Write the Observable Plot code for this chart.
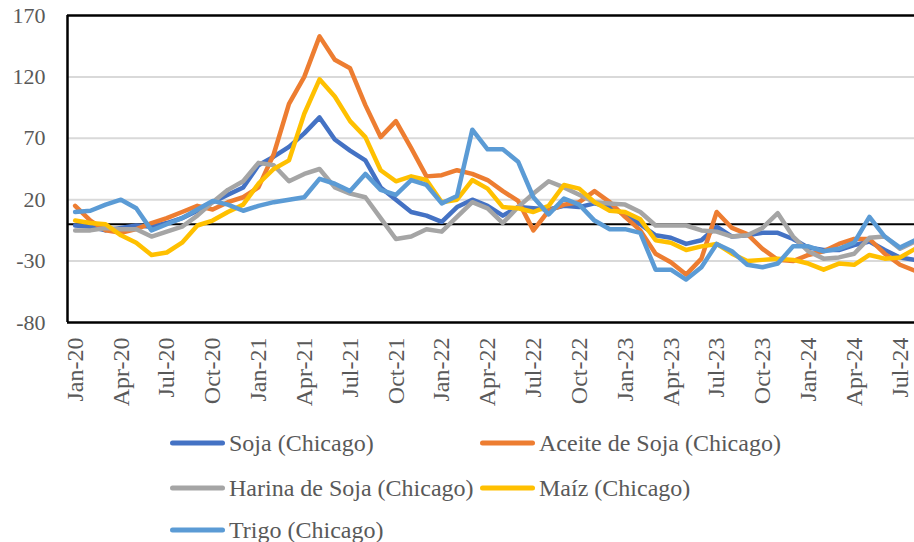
<!DOCTYPE html>
<html>
<head>
<meta charset="utf-8">
<script src="https://cdn.jsdelivr.net/npm/d3@7"></script>
<script src="https://cdn.jsdelivr.net/npm/@observablehq/plot@0.6"></script>
<style>
  html, body { margin: 0; padding: 0; background: #ffffff; }
  #wrap { position: relative; width: 914px; height: 542px; overflow: hidden; font-family: "Liberation Serif", "Times New Roman", serif; }
  .leg { position: absolute; display: flex; align-items: center; color: #595959; font-size: 24px; white-space: nowrap; transform: translateY(-50%); }
  .sw { display: inline-block; width: 55px; height: 5px; border-radius: 3px; margin-right: 4px; }
</style>
</head>
<body>
<div id="wrap"></div>
<script>
const months = ["Jan-20","Feb-20","Mar-20","Apr-20","May-20","Jun-20","Jul-20","Aug-20","Sep-20","Oct-20","Nov-20","Dec-20",
  "Jan-21","Feb-21","Mar-21","Apr-21","May-21","Jun-21","Jul-21","Aug-21","Sep-21","Oct-21","Nov-21","Dec-21",
  "Jan-22","Feb-22","Mar-22","Apr-22","May-22","Jun-22","Jul-22","Aug-22","Sep-22","Oct-22","Nov-22","Dec-22",
  "Jan-23","Feb-23","Mar-23","Apr-23","May-23","Jun-23","Jul-23","Aug-23","Sep-23","Oct-23","Nov-23","Dec-23",
  "Jan-24","Feb-24","Mar-24","Apr-24","May-24","Jun-24","Jul-24","Aug-24"];
const xTickLabels = ["Jan-20","Apr-20","Jul-20","Oct-20","Jan-21","Apr-21","Jul-21","Oct-21","Jan-22","Apr-22","Jul-22","Oct-22","Jan-23","Apr-23","Jul-23","Oct-23","Jan-24","Apr-24","Jul-24"];
const yTicks = [-80, -30, 20, 70, 120, 170];

const soja = [-1,-2,-5,-3,-1,-2,1,5,11,18,24,30, 48,55,63,74,87,69,60,52,30,20,10,7, 2,14,20,15,7,14,13,12,15,14,17,14, 8,0,-9,-11,-16,-13,-2,-10,-9,-7,-7,-12, -19,-21,-21,-17,-14,-21,-27,-29];
const aceite = [15,3,-5,-7,-4,1,5,10,15,12,18,22, 30,57,98,120,153,134,127,97,71,84,62,39, 40,44,41,36,27,19,-5,11,16,18,27,18, 6,-5,-24,-31,-41,-28,10,-3,-8,-20,-29,-30, -25,-22,-16,-12,-12,-24,-33,-38];
const harina = [-5,-5,-3,-4,-4,-10,-6,-2,7,18,28,35, 50,48,35,41,45,30,25,22,5,-12,-10,-4, -6,6,18,13,1,14,25,35,30,24,18,17, 16,10,-1,-1,-1,-5,-6,-10,-9,-3,9,-10, -22,-28,-27,-24,-11,-10,-20,-14];
const maiz = [3,1,0,-9,-15,-25,-23,-15,-1,3,10,16, 33,45,52,90,118,104,84,71,44,35,39,36, 18,20,36,29,14,13,10,15,32,29,18,11, 10,4,-13,-15,-21,-18,-16,-24,-30,-29,-28,-29, -32,-37,-32,-33,-25,-28,-27,-20];
const trigo = [10,11,16,20,13,-5,0,5,12,19,16,11, 15,18,20,22,37,33,27,41,28,24,36,32, 17,23,77,61,61,51,22,8,21,16,3,-4, -4,-7,-37,-37,-45,-35,-16,-22,-33,-35,-32,-18, -18,-22,-20,-15,6,-10,-19,-13];

const seriesNames = ["Soja (Chicago)", "Aceite de Soja (Chicago)", "Harina de Soja (Chicago)", "Maíz (Chicago)", "Trigo (Chicago)"];
const seriesColors = ["#4472C4", "#ED7D31", "#A5A5A5", "#FFC000", "#5B9BD5"];
const seriesValues = [soja, aceite, harina, maiz, trigo];

const tickIdx = xTickLabels.map(l => months.indexOf(l));

const lineMarks = seriesValues.map((vals, k) =>
  Plot.line(vals.map((v, i) => ({i, v})), {x: "i", y: "v", stroke: seriesColors[k], strokeWidth: 4.5, strokeLinejoin: "round", strokeLinecap: "round"})
);

const chart = Plot.plot({
  width: 914,
  height: 420,
  marginLeft: 67,
  marginRight: 0,
  marginTop: 15,
  marginBottom: 98,
  style: {fontFamily: "'Liberation Serif', 'Times New Roman', serif", color: "#595959", background: "transparent", overflow: "visible"},
  x: {type: "linear", domain: [-0.5, 54.95], axis: null, label: null},
  y: {domain: [-80, 170], axis: null, label: null},
  marks: [
    Plot.ruleY(yTicks.filter(t => t !== -80 && t !== 170), {stroke: "#D9D9D9", strokeWidth: 2}),
    Plot.ruleY([0], {stroke: "#000000", strokeWidth: 2}),
    ...lineMarks,
    Plot.ruleY([170, -80], {stroke: "#000000", strokeWidth: 2.5}),
    Plot.ruleX([-0.5], {stroke: "#000000", strokeWidth: 2.5}),
    Plot.axisY({ticks: yTicks, tickSize: 0, tickPadding: 22, fontSize: 22, label: null, tickFormat: d => String(d)}),
    Plot.axisX({ticks: tickIdx, tickFormat: i => months[i], tickRotate: -90, tickSize: 0, tickPadding: 15, fontSize: 24, label: null})
  ]
});
const wrap = document.getElementById("wrap");
wrap.appendChild(chart);

const legPos = [[170, 443], [480, 443], [170, 488], [480, 488], [170, 530]];
seriesNames.forEach((name, k) => {
  const d = document.createElement("div");
  d.className = "leg";
  d.style.left = legPos[k][0] + "px";
  d.style.top = legPos[k][1] + "px";
  const sw = document.createElement("span");
  sw.className = "sw";
  sw.style.background = seriesColors[k];
  d.appendChild(sw);
  d.appendChild(document.createTextNode(name));
  wrap.appendChild(d);
});
</script>
</body>
</html>
